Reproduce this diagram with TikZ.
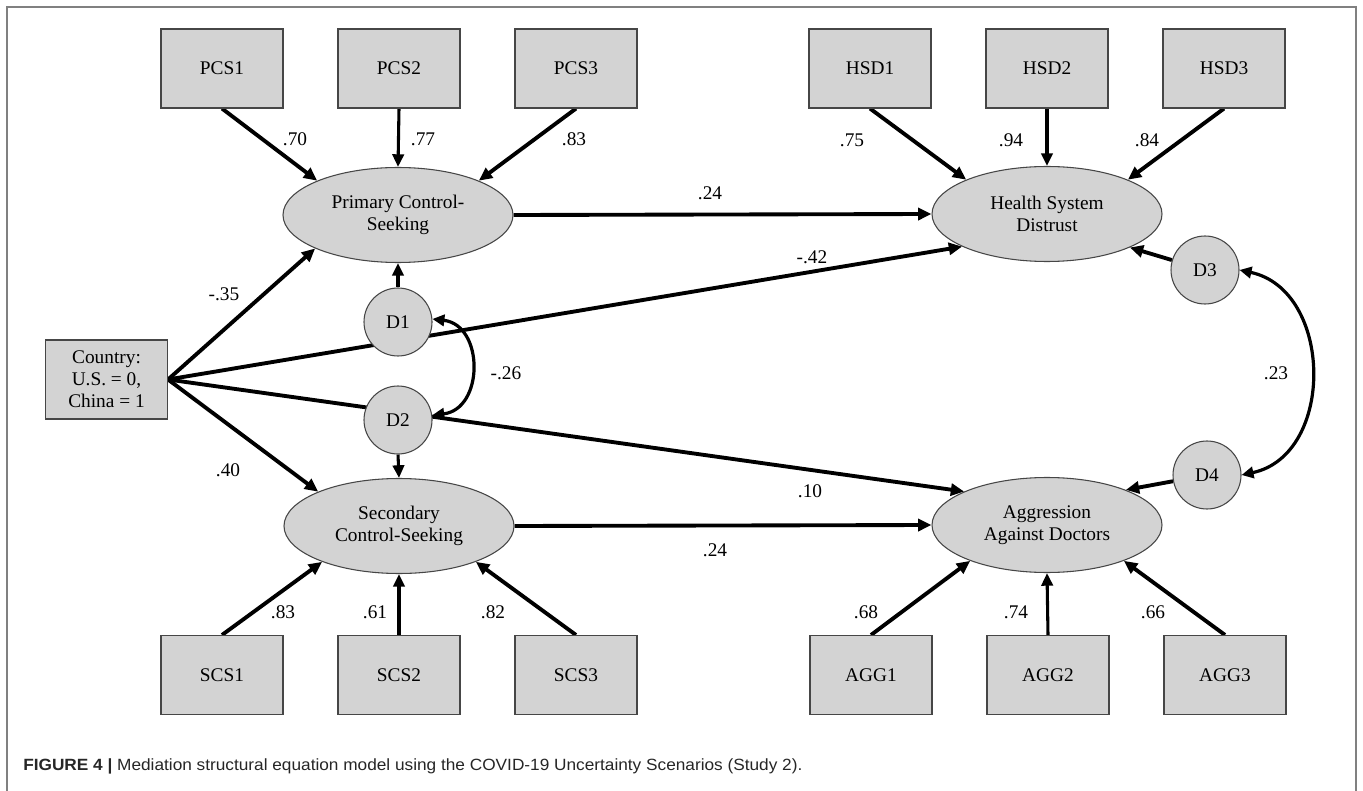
\documentclass[tikz,border=0pt]{standalone}
\usepackage{fontspec}
\setmainfont{Liberation Serif}
\newfontfamily\capfont[FakeStretch=1.06]{Liberation Sans}
\usetikzlibrary{shapes.geometric,arrows.meta}
\definecolor{boxfill}{RGB}{211,211,211}
\definecolor{boxline}{RGB}{70,70,70}
\definecolor{framegray}{RGB}{128,128,128}
\pgfdeclarelayer{bg}
\pgfsetlayers{bg,main}
\begin{document}
\begin{tikzpicture}[x=0.75pt,y=-0.75pt,
  font=\fontsize{14.5}{16.5}\selectfont,
  obs/.style={draw=boxline,fill=boxfill,line width=0.8pt,minimum width=91.5pt,minimum height=59.25pt,inner sep=0pt,align=center},
  lat/.style={ellipse,draw=boxline,fill=boxfill,line width=0.8pt,minimum width=172.5pt,minimum height=71.25pt,inner sep=0pt,align=center},
  dist/.style={circle,draw=boxline,fill=boxfill,line width=0.8pt,minimum size=51pt,inner sep=0pt},
  arr/.style={-{Triangle[length=10pt,width=9pt]},line width=2.9pt},
  varr/.style={-{Triangle[length=9.5pt,width=8.5pt]},line width=2.3pt},
  darr/.style={{Triangle[length=9pt,width=8.5pt]}-{Triangle[length=9pt,width=8.5pt]},line width=2.4pt},
  lbl/.style={inner sep=0pt}
]
\useasboundingbox (0,0) rectangle (1363,791);
\draw[framegray,line width=1.1pt] (7,791) -- (7,7) -- (1356,7) -- (1356,791);

% observed indicators
\node[obs] (pcs1) at (222,68.5) {PCS1};
\node[obs] (pcs2) at (399,68.5) {PCS2};
\node[obs] (pcs3) at (576,68.5) {PCS3};
\node[obs] (hsd1) at (870,68.5) {HSD1};
\node[obs] (hsd2) at (1047,68.5) {HSD2};
\node[obs] (hsd3) at (1224,68.5) {HSD3};
\node[obs] (scs1) at (222,675) {SCS1};
\node[obs] (scs2) at (399,675) {SCS2};
\node[obs] (scs3) at (576,675) {SCS3};
\node[obs] (agg1) at (871,675) {AGG1};
\node[obs] (agg2) at (1048,675) {AGG2};
\node[obs] (agg3) at (1225,675) {AGG3};
\node[obs] (country) at (106.5,379.5) {Country:\\U.S. = 0,\\China = 1};

% latent variables
\node[lat] (pcs) at (398,215) {Primary Control-\\Seeking};
\node[lat] (hsd) at (1047,214) {Health System\\Distrust};
\node[lat] (scs) at (399,526) {Secondary\\Control-Seeking};
\node[lat] (agg) at (1047,525) {Aggression\\Against Doctors};

% disturbances
\node[dist] (d1) at (398,322) {D1};
\node[dist] (d2) at (398,420) {D2};
\node[dist] (d3) at (1205,270) {D3};
\node[dist] (d4) at (1207,475) {D4};

\begin{pgfonlayer}{bg}
\draw[arr] (pcs1.south) -- (pcs.157);
\draw[varr] (pcs2.south) -- (pcs.north);
\draw[arr] (pcs3.south) -- (pcs.23);
\draw[arr] (hsd1.south) -- (hsd.157);
\draw[varr] (hsd2.south) -- (hsd.north);
\draw[arr] (hsd3.south) -- (hsd.23);
\draw[arr] (scs1.north) -- (scs.205);
\draw[varr] (scs2.north) -- (scs.south);
\draw[arr] (scs3.north) -- (scs.-25);
\draw[arr] (agg1.north) -- (agg.205);
\draw[varr] (agg2.north) -- (agg.south);
\draw[arr] (agg3.north) -- (agg.-25);
\draw[arr] (country.east) -- (pcs.202.5);
\draw[arr] (country.east) -- (scs.157);
\draw[arr] (country.east) -- (hsd.201);
\draw[arr] (country.east) -- (agg.158);
\draw[arr] (pcs.east) -- (hsd.west);
\draw[arr] (scs.east) -- (agg.west);
\draw[varr] (d1.north) -- (pcs.south);
\draw[varr] (d2.south) -- (scs.north);
\draw[arr] (d3) -- (hsd.-22);
\draw[arr] (d4) -- (agg.24);
\draw[darr] (d1.5) .. controls +(52,6) and +(52,-6) .. (d2.8);
\draw[darr] (d3.east) .. controls +(94,20) and +(94,-20) .. (d4.east);
\end{pgfonlayer}

% coefficients
\node[lbl] (c70) at (295,139) {.70};
\node[lbl] (c77) at (423,139) {.77};
\node[lbl] (c83a) at (574,139) {.83};
\node[lbl] (c75) at (852,140) {.75};
\node[lbl] (c94) at (1011,140) {.94};
\node[lbl] (c84) at (1147,140) {.84};
\node[lbl] (c24a) at (710,193) {.24};
\node[lbl] (c42) at (812,257) {-.42};
\node[lbl] (c35) at (224,294) {-.35};
\node[lbl] (c40) at (228,470) {.40};
\node[lbl] (c26) at (506,373) {-.26};
\node[lbl] (c23) at (1276,373) {.23};
\node[lbl] (c10) at (810,491) {.10};
\node[lbl] (c24b) at (715,550) {.24};
\node[lbl] (c83b) at (283,612) {.83};
\node[lbl] (c61) at (375,612) {.61};
\node[lbl] (c82) at (493,612) {.82};
\node[lbl] (c68) at (866,612) {.68};
\node[lbl] (c74) at (1016,612) {.74};
\node[lbl] (c66) at (1153,612) {.66};

% caption
\node[anchor=west,inner sep=0pt,font=\capfont\fontsize{12.2}{14}\selectfont,text=black!85] (cap) at (23,766) {\textbf{FIGURE 4 |} Mediation structural equation model using the COVID-19 Uncertainty Scenarios (Study 2).};
\end{tikzpicture}
\end{document}
